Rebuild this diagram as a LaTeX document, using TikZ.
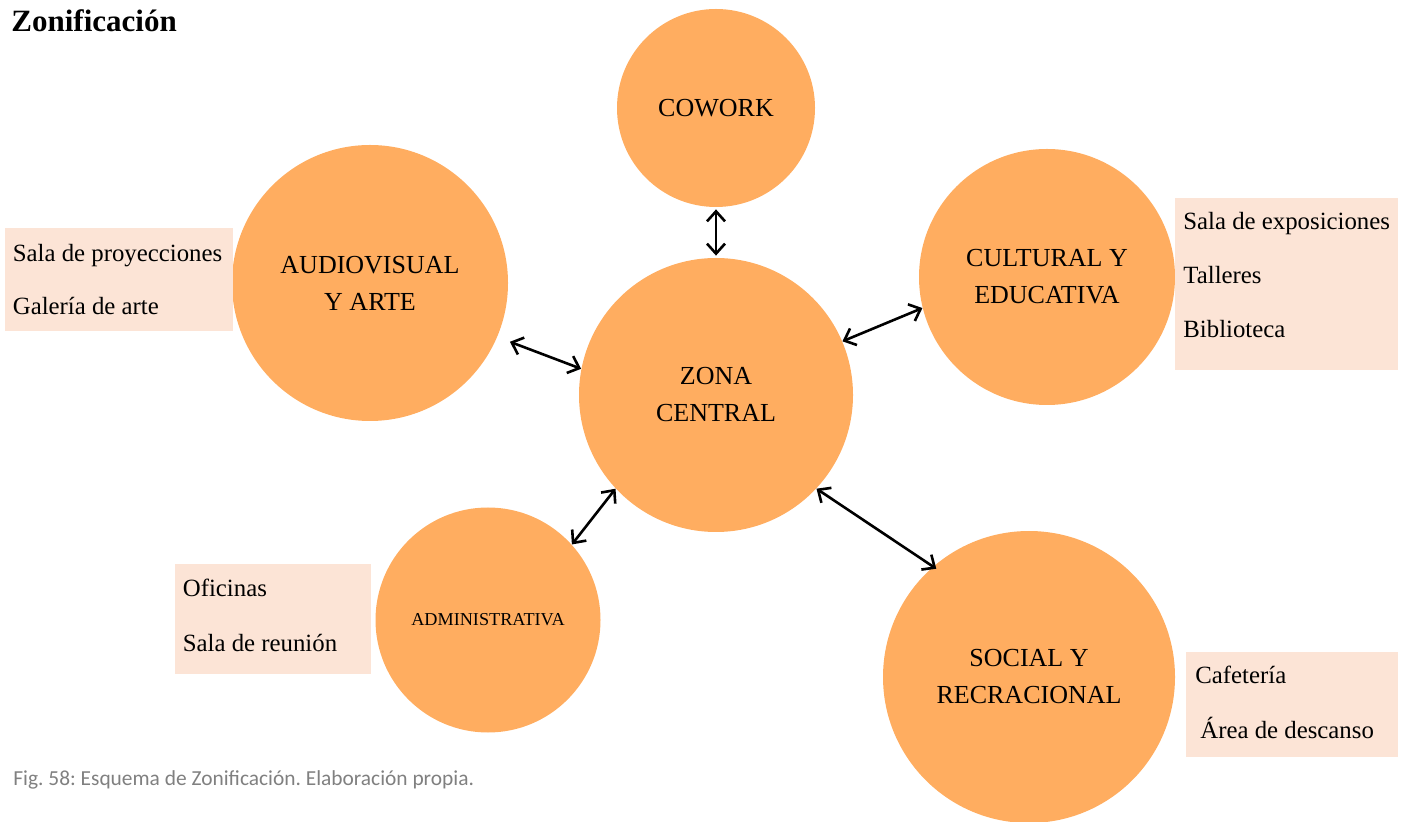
\documentclass[tikz,border=0pt]{standalone}
\usepackage{fontspec}
\setmainfont{Liberation Serif}
\newfontfamily\captionfont{Carlito}
\usetikzlibrary{arrows.meta}

\definecolor{zoneorange}{RGB}{255,173,96}
\definecolor{listpeach}{RGB}{252,228,214}
\definecolor{captiongray}{RGB}{128,128,128}

\begin{document}
\frenchspacing
\begin{tikzpicture}[x=0.5pt, y=-0.5pt]

    \tikzstyle{zone}=[circle, fill=zoneorange, inner sep=0pt, align=center, font=\fontsize{13}{18.5}\selectfont]
    \tikzstyle{listbox}=[rectangle, fill=listpeach, anchor=north west, inner sep=0pt]
    \tikzstyle{listitem}=[anchor=base west, inner sep=0pt, font=\fontsize{12.4}{15}\selectfont]
    \tikzstyle{zonelink}=[<->, >={Straight Barb[length=5pt,width=9pt]}, line width=1.3pt]

    % Fix the page size
    \useasboundingbox (0,0) rectangle (1407,822);

    % Draw the title
    \node[anchor=base west, inner sep=0pt, font=\bfseries\fontsize{15.5}{18}\selectfont] (title) at (11,32) {Zonificación};

    % Draw the zones
    \node[zone, minimum size=99pt] (cowork) at (716,108) {COWORK};
    \node[zone, minimum size=138pt] (audio) at (370,283) {AUDIOVISUAL\\Y ARTE};
    \node[zone, minimum size=137pt] (zona) at (716,395) {ZONA\\CENTRAL};
    \node[zone, minimum size=128pt] (cultural) at (1047,277) {CULTURAL Y\\EDUCATIVA};
    \node[zone, minimum size=112.5pt, font=\fontsize{9.1}{11}\selectfont] (admin) at (488,620) {ADMINISTRATIVA};
    \node[zone, minimum size=146pt] (social) at (1029,677) {SOCIAL Y\\RECRACIONAL};

    % Draw the room lists
    \node[listbox, minimum width=113.75pt, minimum height=51.5pt] (audioList) at (5,228) {};
    \node[listitem] (proyecciones) at (12.5,262) {Sala de proyecciones};
    \node[listitem] (galeria) at (12.5,315) {Galería de arte};

    \node[listbox, minimum width=111.5pt, minimum height=86pt] (culturalList) at (1175,198) {};
    \node[listitem] (exposiciones) at (1183,230) {Sala de exposiciones};
    \node[listitem] (talleres) at (1183,284) {Talleres};
    \node[listitem] (biblioteca) at (1183,338) {Biblioteca};

    \node[listbox, minimum width=98pt, minimum height=55pt] (adminList) at (175,564) {};
    \node[listitem] (oficinas) at (182.5,597) {Oficinas};
    \node[listitem] (reunion) at (182.5,652) {Sala de reunión};

    \node[listbox, minimum width=106pt, minimum height=52.75pt] (socialList) at (1186,651.5) {};
    \node[listitem] (cafeteria) at (1195,683) {Cafetería};
    \node[listitem] (descanso) at (1200,738) {Área de descanso};

    % Draw the links to the central zone
    \draw[zonelink, shorten <=1pt, shorten >=1pt] (cowork.270) -- (zona.90);
    \draw[zonelink, shorten <=6.7pt] (audio.-23.4) -- (zona.169.7);
    \draw[zonelink] (zona.23.4) -- (cultural.194.3);
    \draw[zonelink] (zona.223.2) -- (admin.42.3);
    \draw[zonelink, shorten >=-2pt] (zona.-43.8) -- (social.131.2);
    % Adjust the angles to move the arrow ends along the circles.

    % Add the caption
    \node[anchor=base west, inner sep=0pt, text=captiongray, font=\captionfont\fontsize{10.7}{12}\selectfont] (caption) at (13,785) {Fig. 58: Esquema de Zonificación. Elaboración propia.};
\end{tikzpicture}
\end{document}
